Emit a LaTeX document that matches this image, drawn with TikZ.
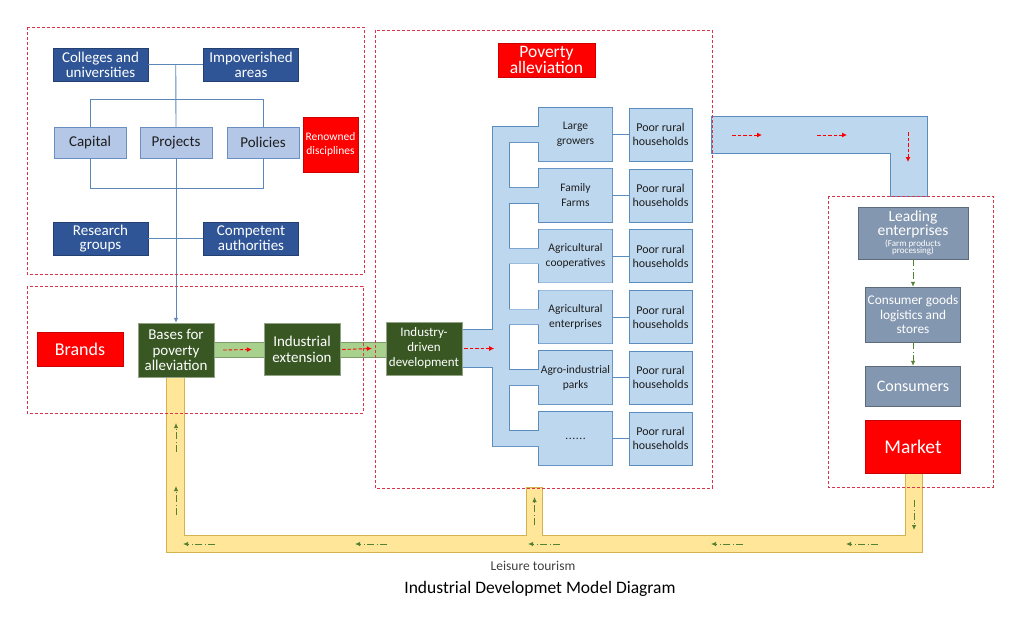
\documentclass[tikz,border=0pt]{standalone}
\usepackage{fontspec}
\setmainfont{Carlito}
\usetikzlibrary{calc,arrows.meta}

\definecolor{navy}{HTML}{2F5597}
\definecolor{paleblue}{HTML}{B4C7E7}
\definecolor{paleline}{HTML}{6B8EC2}
\definecolor{combfill}{HTML}{BDD7EE}
\definecolor{combline}{HTML}{5B8CC0}
\definecolor{forest}{HTML}{385723}
\definecolor{leaf}{HTML}{A9D18E}
\definecolor{slate}{HTML}{8497B0}
\definecolor{sand}{HTML}{FFE699}
\definecolor{sandline}{HTML}{D2B350}
\definecolor{alarm}{HTML}{FF0000}
\definecolor{regred}{HTML}{D9344A}
\definecolor{linkblue}{HTML}{5B87B8}
\definecolor{olivegreen}{HTML}{548235}
\definecolor{ink}{HTML}{1E1E1E}
\newcommand\sixdots{.\kern0.6pt.\kern0.6pt.\kern0.6pt.\kern0.6pt.\kern0.6pt.}
\newcommand\farmfont{\fontsize{9}{8.3}\selectfont}

\begin{document}
\begin{tikzpicture}[x=1pt, y=-1pt,
    region/.style={draw=regred, line width=0.7pt, dash pattern=on 3pt off 2pt},
    navybox/.style={fill=navy, draw=navy!75!black, text=white, align=center, inner sep=1pt,
        minimum width=95, minimum height=33, font=\fontsize{15}{14.7}\selectfont},
    palebox/.style={fill=paleblue, draw=paleline, text=ink, align=center, inner sep=1pt,
        minimum width=72, minimum height=31, font=\fontsize{15}{15}\selectfont},
    alarmbox/.style={fill=alarm, draw=alarm!80!black, text=white, align=center, inner sep=0pt},
    forestbox/.style={fill=forest, draw=forest!55!white, text=white, align=center, inner sep=1pt,
        minimum width=76, minimum height=53, font=\fontsize{15}{15.5}\selectfont},
    combbox/.style={text=ink, align=center, inner sep=0pt, minimum width=73, minimum height=53,
        font=\fontsize{11.5}{15}\selectfont},
    poorbox/.style={fill=combfill, draw=combline, text=ink, align=center, inner sep=0pt,
        minimum width=63, minimum height=53, font=\fontsize{12}{14}\selectfont},
    slatebox/.style={fill=slate, draw=slate!70!black, text=white, align=center, inner sep=0pt,
        minimum width=95},
    link/.style={draw=linkblue, line width=0.9pt},
    flow/.style={draw=alarm, line width=0.9pt, dash pattern=on 3.5pt off 2pt,
        -{Latex[length=5pt,width=5pt]}},
    back/.style={draw=olivegreen, line width=0.8pt, dash pattern=on 7pt off 2.5pt on 1pt off 2.5pt,
        -{Latex[length=5pt,width=4.5pt]}},
]
\useasboundingbox (0,0) rectangle (1022,616);

\foreach \op in {1,0}
  \foreach \a/\b/\c/\d in {167/377/184/552, 167/536/922/552, 527/488/542/552, 906/473/922/552}
    \filldraw[fill=sand, draw=sandline, draw opacity=\op, line width=1.6pt] (\a,\b) rectangle (\c,\d);

\foreach \op in {1,0}{
  \begin{scope}[fill=combfill, draw=combline, draw opacity=\op, line width=1.6pt]
    \filldraw (712,117) rectangle (927,153);
    \filldraw (891,117) rectangle (927,196);
    \filldraw (455,330) rectangle (509,367);
    \filldraw (493,127) rectangle (509,446);
    \foreach \k in {0,...,5}
      \filldraw (493,127+60.8*\k) rectangle (612,142+60.8*\k)
                (539,108+60.8*\k) rectangle (612,161+60.8*\k);
  \end{scope}
}
\filldraw[fill=leaf, draw=leaf!75!black, line width=0.5pt] (214,342) rectangle (386,357);

\node[navybox] (colleges) at (100.5,64.5) {Colleges and\\universities};
\node[navybox] (areas) at (251,64.5) {Impoverished\\areas};
\node[palebox] (capital) at (90,142.5) {Capital};
\node[palebox] (projects) at (176,142.5) {Projects};
\node[palebox] (policies) at (263,142.5) {Policies};
\node[alarmbox, minimum width=55, minimum height=55, font=\fontsize{11.5}{14.3}\selectfont] (renowned) at (330.5,144.5) {Renowned\\disciplines};
\node[navybox] (groups) at (100.5,238.5) {Research\\groups};
\node[navybox] (authorities) at (251,238.5) {Competent\\authorities};

\node[alarmbox, minimum width=86, minimum height=34, font=\fontsize{18}{18}\selectfont] (brands) at (80,349) {Brands};
\node[forestbox, minimum height=54] (bases) at (176,350) {Bases for\\poverty\\alleviation};
\node[forestbox, minimum height=52] (extension) at (302,349.5) {Industrial\\extension};
\node[forestbox, font=\fontsize{13}{15}\selectfont] (driven) at (424,348.5) {Industry-\\driven\\development};

\node[alarmbox, minimum width=97, minimum height=34, font=\fontsize{17.5}{16}\selectfont] (poverty) at (546.5,60) {Poverty\\alleviation};
\foreach \name [count=\k from 0] in {{Large\\growers}, {Family\\Farms}, {Agricultural\\cooperatives},
    {Agricultural\\enterprises}, {Agro-industrial\\parks}, {\sixdots}}{
  \node[combbox] (grower\k) at (575.5,134.5+60.8*\k) {\name};
  \node[poorbox] (household\k) at (660.5,134.5+60.8*\k) {Poor rural\\households};
  \draw[combline, line width=0.8pt] (grower\k) -- (household\k);
}

\node[slatebox, minimum width=110, minimum height=52, font=\fontsize{15.5}{13.5}\selectfont] (leading) at (913,233)
  {Leading\\enterprises\\[-2.5pt]\farmfont (Farm products\\[-6pt]\farmfont processing)};
\node[slatebox, minimum height=55, font=\fontsize{13.3}{14.2}\selectfont] (goods) at (913,314.5) {Consumer goods\\logistics and\\stores};
\node[slatebox, minimum height=40, font=\fontsize{16}{16}\selectfont] (consumers) at (913,386) {Consumers};
\node[alarmbox, minimum width=95, minimum height=53, font=\fontsize{19.5}{20}\selectfont] (market) at (913,446.5) {Market};

\draw[link] (colleges) -- (areas);
\draw[link] (groups) -- (authorities);
\draw[link] ($(colleges.east)!0.5!(areas.west)$) -- (projects.north);
\draw[link] (capital.north) -- ++(0,-27) -| (policies.north);
\draw[link] (capital.south) -- ++(0,30) -| (policies.south);
\draw[link, -{Latex[length=5pt,width=4.5pt]}] (projects.south) -- (bases.north);

\draw[region] (27,27) rectangle (364,274);
\draw[region] (27,286) rectangle (363,413);
\draw[region] (375,30) rectangle (712,488);
\draw[region] (828,196) rectangle (993,487);

\draw[flow] ([xshift=9]bases.east) -- ([xshift=-12]extension.west);
\draw[flow] ([xshift=2]extension.east) -- ([xshift=-14]driven.west);
\draw[flow] ([xshift=2]driven.east) -- ++(30,0);
\draw[flow] (732,135) -- (762,135);
\draw[flow] (817,135) -- (847,135);
\draw[flow] (908,132) -- (908,162);

\draw[back] (leading) -- (goods);
\draw[back] (goods) -- (consumers);
\foreach \y in {452,515} \draw[back] (176,\y) -- ++(0,-29);
\draw[back] (534.5,525) -- (534.5,497);
\draw[back] (914,500) -- (914,530);
\foreach \x in {215,387,560,743,878} \draw[back] (\x,544) -- ++(-32,0);

\node[text=ink!85, font=\fontsize{13.5}{14}\selectfont] (leisure) at (533,566) {Leisure tourism};
\node[text=black, font=\fontsize{17.5}{18}\selectfont] (caption) at (540,589) {Industrial Developmet Model Diagram};
\end{tikzpicture}
\end{document}
